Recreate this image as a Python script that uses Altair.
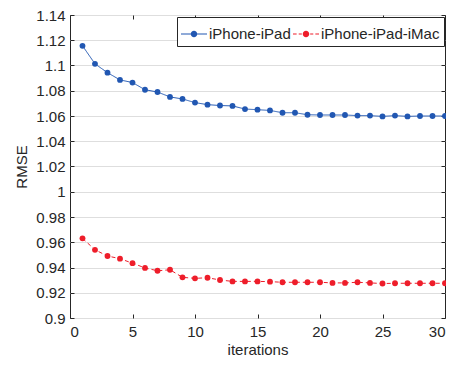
import altair as alt
import pandas as pd

iterations = list(range(1, 31))
series_names = ["iPhone-iPad", "iPhone-iPad-iMac"]
blue_vals = [1.1156, 1.1013, 1.0943, 1.0886, 1.0865, 1.0808, 1.0790, 1.0751, 1.0735, 1.0706,
             1.0690, 1.0683, 1.0680, 1.0655, 1.0650, 1.0644, 1.0626, 1.0626, 1.0610, 1.0608,
             1.0608, 1.0608, 1.0603, 1.0603, 1.0597, 1.0603, 1.0597, 1.0600, 1.0600, 1.0600]
red_vals = [0.9631, 0.9540, 0.9491, 0.9470, 0.9434, 0.9397, 0.9374, 0.9382, 0.9322, 0.9314,
            0.9319, 0.9301, 0.9290, 0.9290, 0.9290, 0.9288, 0.9283, 0.9283, 0.9283, 0.9283,
            0.9278, 0.9278, 0.9283, 0.9278, 0.9273, 0.9275, 0.9275, 0.9275, 0.9275, 0.9275]
x_ticks = [0, 5, 10, 15, 20, 25, 30]
y_ticks = [0.9, 0.92, 0.94, 0.96, 0.98, 1.0, 1.02, 1.04, 1.06, 1.08, 1.1, 1.12, 1.14]

rows = []
for i, v in zip(iterations, blue_vals):
    rows.append({"iteration": i, "value": v, "series": series_names[0]})
for i, v in zip(iterations, red_vals):
    rows.append({"iteration": i, "value": v, "series": series_names[1]})
df = pd.DataFrame(rows)

colors = ["#2157b2", "#ee1d2a"]
FONT = "Liberation Sans"
TXT = "#262626"
FS = 15

circle = "M0.25,0A0.25,0.25,0,1,1,-0.25,0A0.25,0.25,0,1,1,0.25,0Z"
solid_sym = "M-1,-0.03H1V0.03H-1Z " + circle
dashed_sym = ("M-1,-0.03H-0.72V0.03H-1Z M-0.56,-0.03H-0.32V0.03H-0.56Z "
              "M0.32,-0.03H0.56V0.03H0.32Z M0.72,-0.03H1V0.03H0.72Z " + circle)

xscale = alt.Scale(domain=[0, 30], nice=False, zero=False)
yscale = alt.Scale(domain=[0.9, 1.14], nice=False, zero=False)
cscale = alt.Scale(domain=series_names, range=colors)
shscale = alt.Scale(domain=series_names, range=[solid_sym, dashed_sym])

leg = alt.Legend(title=None, orient="none", legendX=107, legendY=2, direction="horizontal",
                 symbolSize=676, strokeColor="#262626", fillColor="white", padding=4,
                 labelFontSize=FS, labelFont=FONT, labelColor=TXT, labelOffset=2,
                 columnPadding=2, symbolStrokeWidth=0)

base = alt.Chart(df)

# layer 1: guides (bottom/left axes, legend), invisible marks
guide_layer = base.mark_point(filled=True, opacity=1, size=0).encode(
    x=alt.X("iteration:Q", scale=xscale, axis=alt.Axis(
        values=x_ticks, title="iterations", grid=False, tickSize=4, offset=-4,
        domain=False, labelPadding=6, titlePadding=3)),
    y=alt.Y("value:Q", scale=yscale, axis=alt.Axis(
        values=y_ticks, title="RMSE", grid=True, tickSize=4, offset=-4,
        domain=False, labelPadding=5, format="~g", titlePadding=6)),
    color=alt.Color("series:N", scale=cscale, legend=leg),
    shape=alt.Shape("series:N", scale=shscale, legend=leg),
)

# layer 2: lines, with mirrored top/right ticks
lines = base.mark_line(strokeWidth=1).encode(
    x=alt.X("iteration:Q", scale=xscale, axis=alt.Axis(
        orient="top", values=x_ticks, labels=False, title=None, grid=False,
        tickSize=4, offset=-4, domain=False, ticks=True)),
    y=alt.Y("value:Q", scale=yscale, axis=alt.Axis(
        orient="right", values=y_ticks, labels=False, title=None, grid=False,
        tickSize=4, offset=-4, domain=False, ticks=True)),
    color=alt.Color("series:N", scale=cscale, legend=leg),
    strokeDash=alt.StrokeDash("series:N", scale=alt.Scale(domain=series_names, range=[[1, 0], [4, 3]]), legend=None),
)

# layer 3: points
points = base.mark_circle(size=34, opacity=1).encode(
    x=alt.X("iteration:Q", scale=xscale, axis=None),
    y=alt.Y("value:Q", scale=yscale, axis=None),
    color=alt.Color("series:N", scale=cscale, legend=leg),
)

chart = alt.layer(guide_layer, lines, points).resolve_axis(
    x="independent", y="independent"
).properties(
    width=375, height=303,
    autosize=alt.AutoSizeParams(type="none"),
    padding={"left": 62, "top": 7, "right": 1, "bottom": 40},
).configure_view(
    stroke="#262626", strokeWidth=1
).configure_axis(
    labelFont=FONT, labelFontSize=FS, labelColor=TXT,
    titleFont=FONT, titleFontSize=FS, titleColor=TXT, titleFontWeight="normal",
    tickColor=TXT, tickWidth=1, tickOpacity=1, gridColor="#dedede", gridWidth=1,
)

chart.save("out.html", embed_options={"renderer": "svg", "actions": False})
